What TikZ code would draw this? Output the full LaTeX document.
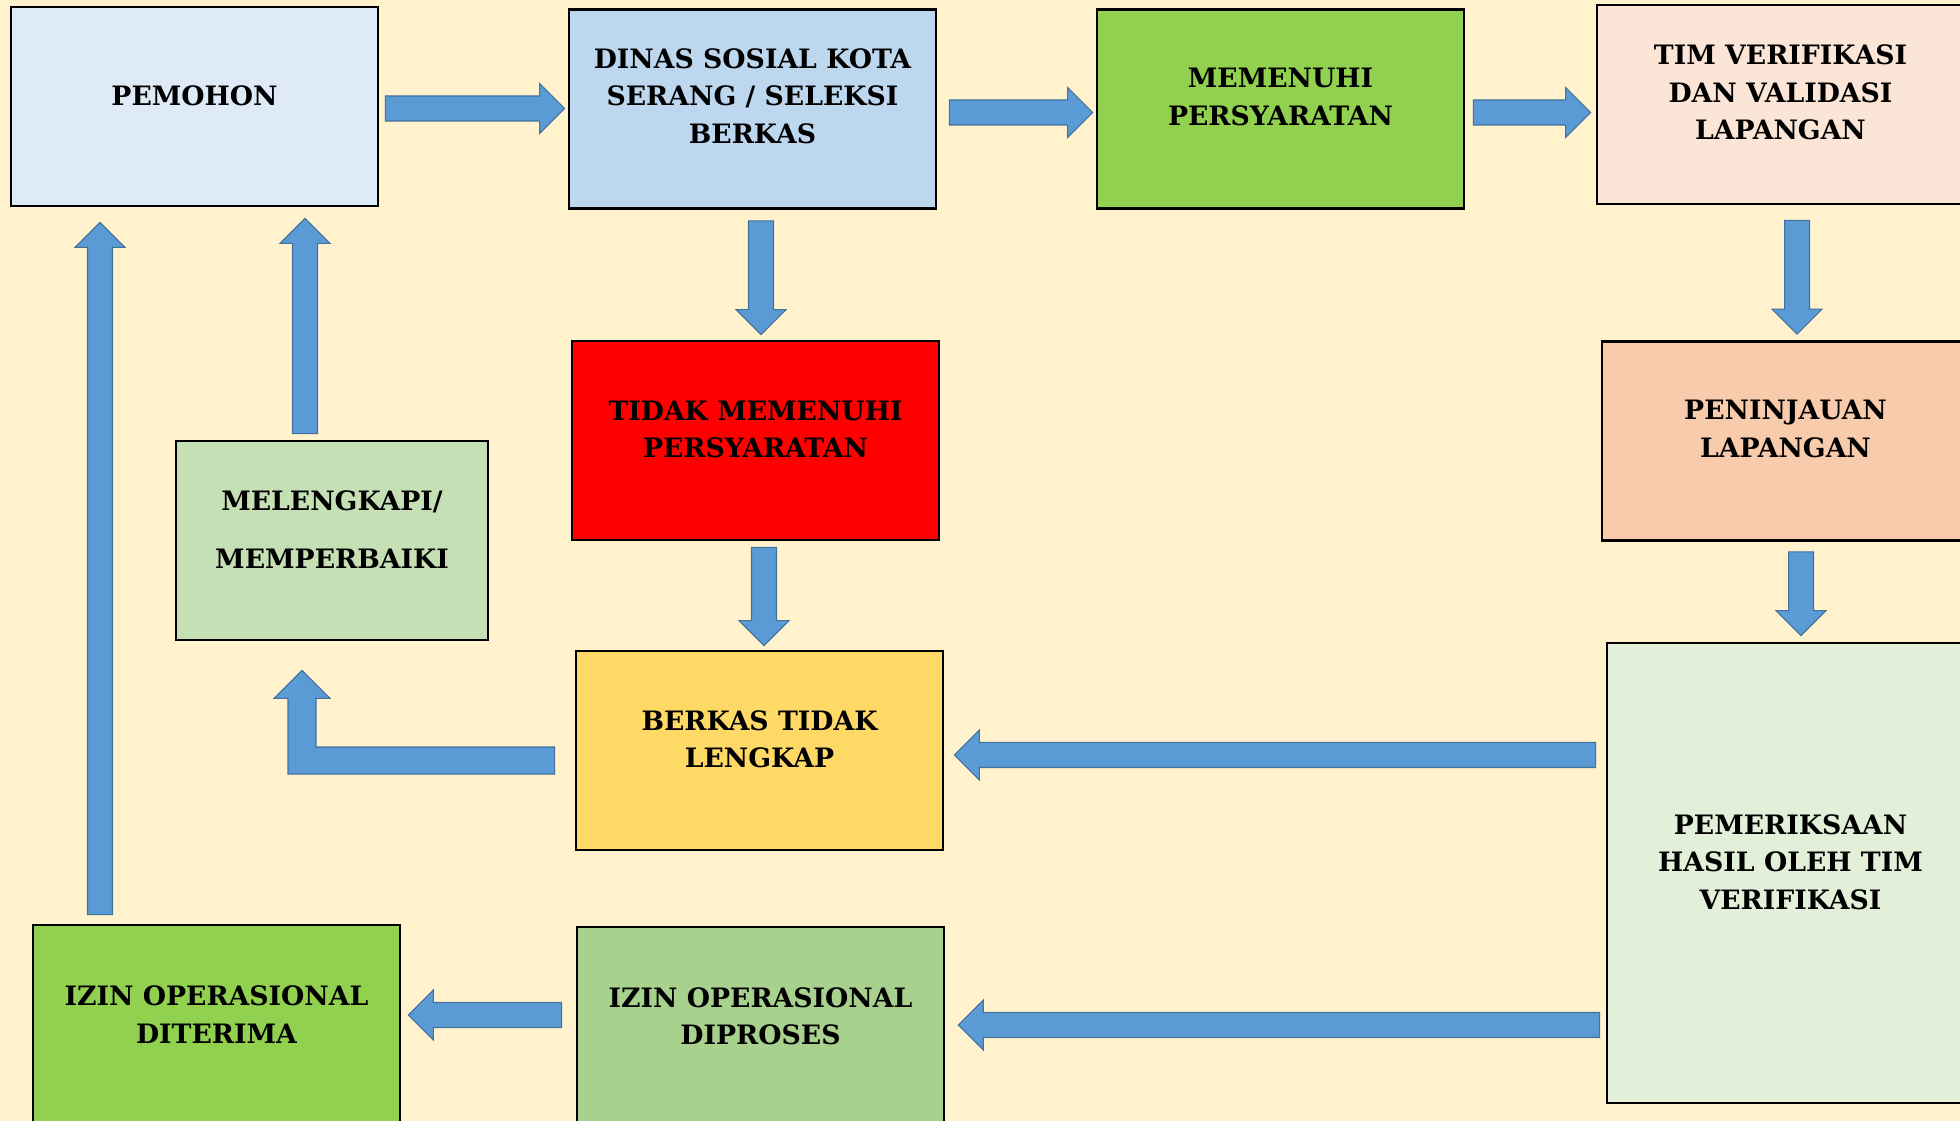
\documentclass[tikz,border=0pt]{standalone}
\usepackage{fontspec}
\setmainfont{DejaVu Serif}
\usetikzlibrary{calc}
\definecolor{bgc}{HTML}{FFF2CC}
\definecolor{cPemohon}{HTML}{DEEBF7}
\definecolor{cDinas}{HTML}{BDD7EE}
\definecolor{cGreen}{HTML}{92D050}
\definecolor{cTim}{HTML}{FBE5D6}
\definecolor{cRed}{HTML}{FF0000}
\definecolor{cPeninjau}{HTML}{F8CBAD}
\definecolor{cLengkap}{HTML}{C5E0B4}
\definecolor{cBerkas}{HTML}{FFD966}
\definecolor{cPeriksa}{HTML}{E2F0D9}
\definecolor{cProses}{HTML}{A9D18E}
\definecolor{arrfill}{HTML}{5B9BD5}
\definecolor{arredge}{HTML}{41719C}
\tikzset{
  box/.style={draw=black, line width=1.6pt, minimum width=7.34cm, minimum height=3.98cm, inner sep=0pt},
  lbl/.style={align=center, font=\fontsize{15.2}{21.3}\selectfont\bfseries, inner sep=0pt},
  barr/.style={fill=arrfill, draw=arredge, line width=0.6pt, line join=miter},
}
\newcommand\blockarr[2]{%
  \coordinate (hb) at ($(#2)!0.5cm!(#1)$);
  \filldraw[barr] ($(#1)!0.25cm!90:(#2)$) -- ($(hb)!0.25cm!90:(#2)$) -- ($(hb)!0.5cm!90:(#2)$) -- (#2)
    -- ($(hb)!0.5cm!-90:(#2)$) -- ($(hb)!0.25cm!-90:(#2)$) -- ($(#1)!0.25cm!-90:(#2)$) -- cycle;
}
\begin{document}
\begin{tikzpicture}[x=0.02cm,y=-0.02cm]
\useasboundingbox (0,0) rectangle (1960,1121);
\clip (0,0) rectangle (1960,1121);
\fill[bgc] (0,0) rectangle (1960,1121);

% boxes
\node[box, fill=cPemohon] (pemohon) at (194.5,106.5) {};
\node[box, fill=cDinas] (dinas) at (752.5,109) {};
\node[box, fill=cGreen] (memenuhi) at (1280.5,109) {};
\node[box, fill=cTim] (tim) at (1780.5,104.5) {};
\node[box, fill=cRed] (tidak) at (755.5,440.5) {};
\node[box, fill=cPeninjau] (peninjauan) at (1785.5,441) {};
\node[box, fill=cLengkap, minimum width=6.24cm] (melengkapi) at (332,540.5) {};
\node[box, fill=cBerkas] (berkas) at (759.5,750.5) {};
\node[box, fill=cPeriksa, minimum height=9.2cm] (pemeriksaan) at (1790.5,873) {};
\node[box, fill=cGreen] (diterima) at (216.5,1024.5) {};
\node[box, fill=cProses] (diproses) at (760.5,1026.5) {};

% texts
\node[lbl] (pemohon-t) at ($(pemohon.center)+(0,-11)$) {PEMOHON};
\node[lbl] (dinas-t) at ($(dinas.center)+(0,-13)$) {DINAS SOSIAL KOTA\\SERANG / SELEKSI\\BERKAS};
\node[lbl] (memenuhi-t) at ($(memenuhi.center)+(0,-12)$) {MEMENUHI\\PERSYARATAN};
\node[lbl] (tim-t) at ($(tim.center)+(0,-12)$) {TIM VERIFIKASI\\DAN VALIDASI\\LAPANGAN};
\node[lbl] (tidak-t) at ($(tidak.center)+(0,-11)$) {TIDAK MEMENUHI\\PERSYARATAN};
\node[lbl] (peninjauan-t) at ($(peninjauan.center)+(0,-12)$) {PENINJAUAN\\LAPANGAN};
\node[lbl] (melengkapi-t) at ($(melengkapi.center)+(0,-11)$) {MELENGKAPI/\\[11.3pt]MEMPERBAIKI};
\node[lbl] (berkas-t) at ($(berkas.center)+(0,-11)$) {BERKAS TIDAK\\LENGKAP};
\node[lbl] (pemeriksaan-t) at ($(pemeriksaan.center)+(0,-11)$) {PEMERIKSAAN\\HASIL OLEH TIM\\VERIFIKASI};
\node[lbl] (diterima-t) at ($(diterima.center)+(0,-10)$) {IZIN OPERASIONAL\\DITERIMA};
\node[lbl] (diproses-t) at ($(diproses.center)+(0,-10)$) {IZIN OPERASIONAL\\DIPROSES};

% arrow end points
\coordinate (a1s) at ($(pemohon.east)+(6,2)$);
\coordinate (a1e) at ($(dinas.west)+(-3,-0.5)$);
\coordinate (a2s) at ($(dinas.east)+(12,3.5)$);
\coordinate (a2e) at ($(memenuhi.west)+(-3,3.5)$);
\coordinate (a3s) at ($(memenuhi.east)+(8,3.5)$);
\coordinate (a3e) at ($(tim.west)+(-5,8)$);
\coordinate (a4s) at ($(dinas.south)+(8.5,11)$);
\coordinate (a4e) at ($(tidak.north)+(5.5,-5)$);
\coordinate (a5s) at ($(tim.south)+(16.5,15)$);
\coordinate (a5e) at ($(peninjauan.north)+(11.5,-6)$);
\coordinate (a6s) at ($(tidak.south)+(8.5,6)$);
\coordinate (a6e) at ($(berkas.north)+(4.5,-4)$);
\coordinate (a7s) at ($(peninjauan.south)+(15.5,10)$);
\coordinate (a7e) at ($(pemeriksaan.north)+(10.5,-6)$);
\coordinate (a8s) at ($(berkas.east -| pemeriksaan.west)+(-10,4.5)$);
\coordinate (a8e) at ($(berkas.east)+(10,4.5)$);
\coordinate (a9s) at ($(diproses.east -| pemeriksaan.west)+(-6,-1.5)$);
\coordinate (a9e) at ($(diproses.east)+(13,-1.5)$);
\coordinate (a10s) at ($(diproses.west)+(-14,-11.5)$);
\coordinate (a10e) at ($(diterima.east)+(7,-9.5)$);
\coordinate (a12s) at ($(melengkapi.north)+(-27,-6)$);
\coordinate (a12e) at ($(pemohon.south)+(110.5,11)$);
\coordinate (a13s) at ($(diterima.north)+(-116.5,-9)$);
\coordinate (a13e) at ($(pemohon.south)+(-94.5,15)$);
\coordinate (a11s) at ($(berkas.west)+(-20,10)$);
\coordinate (a11e) at ($(melengkapi.south)+(-30,29)$);
\coordinate (a11c) at (a11e |- a11s);

\blockarr{a1s}{a1e}
\blockarr{a2s}{a2e}
\blockarr{a3s}{a3e}
\blockarr{a4s}{a4e}
\blockarr{a5s}{a5e}
\blockarr{a6s}{a6e}
\blockarr{a7s}{a7e}
\blockarr{a8s}{a8e}
\blockarr{a9s}{a9e}
\blockarr{a10s}{a10e}
\blockarr{a12s}{a12e}
\blockarr{a13s}{a13e}
% bent arrow from berkas to melengkapi
\filldraw[barr] ($(a11s)+(0,-13.5)$) -- ($(a11c)+(14,-13.5)$) -- ($(a11e)+(14,28)$) -- ($(a11e)+(28,28)$)
  -- (a11e) -- ($(a11e)+(-28,28)$) -- ($(a11e)+(-14,28)$) -- ($(a11c)+(-14,13.5)$)
  -- ($(a11s)+(0,13.5)$) -- cycle;
\end{tikzpicture}
\end{document}
